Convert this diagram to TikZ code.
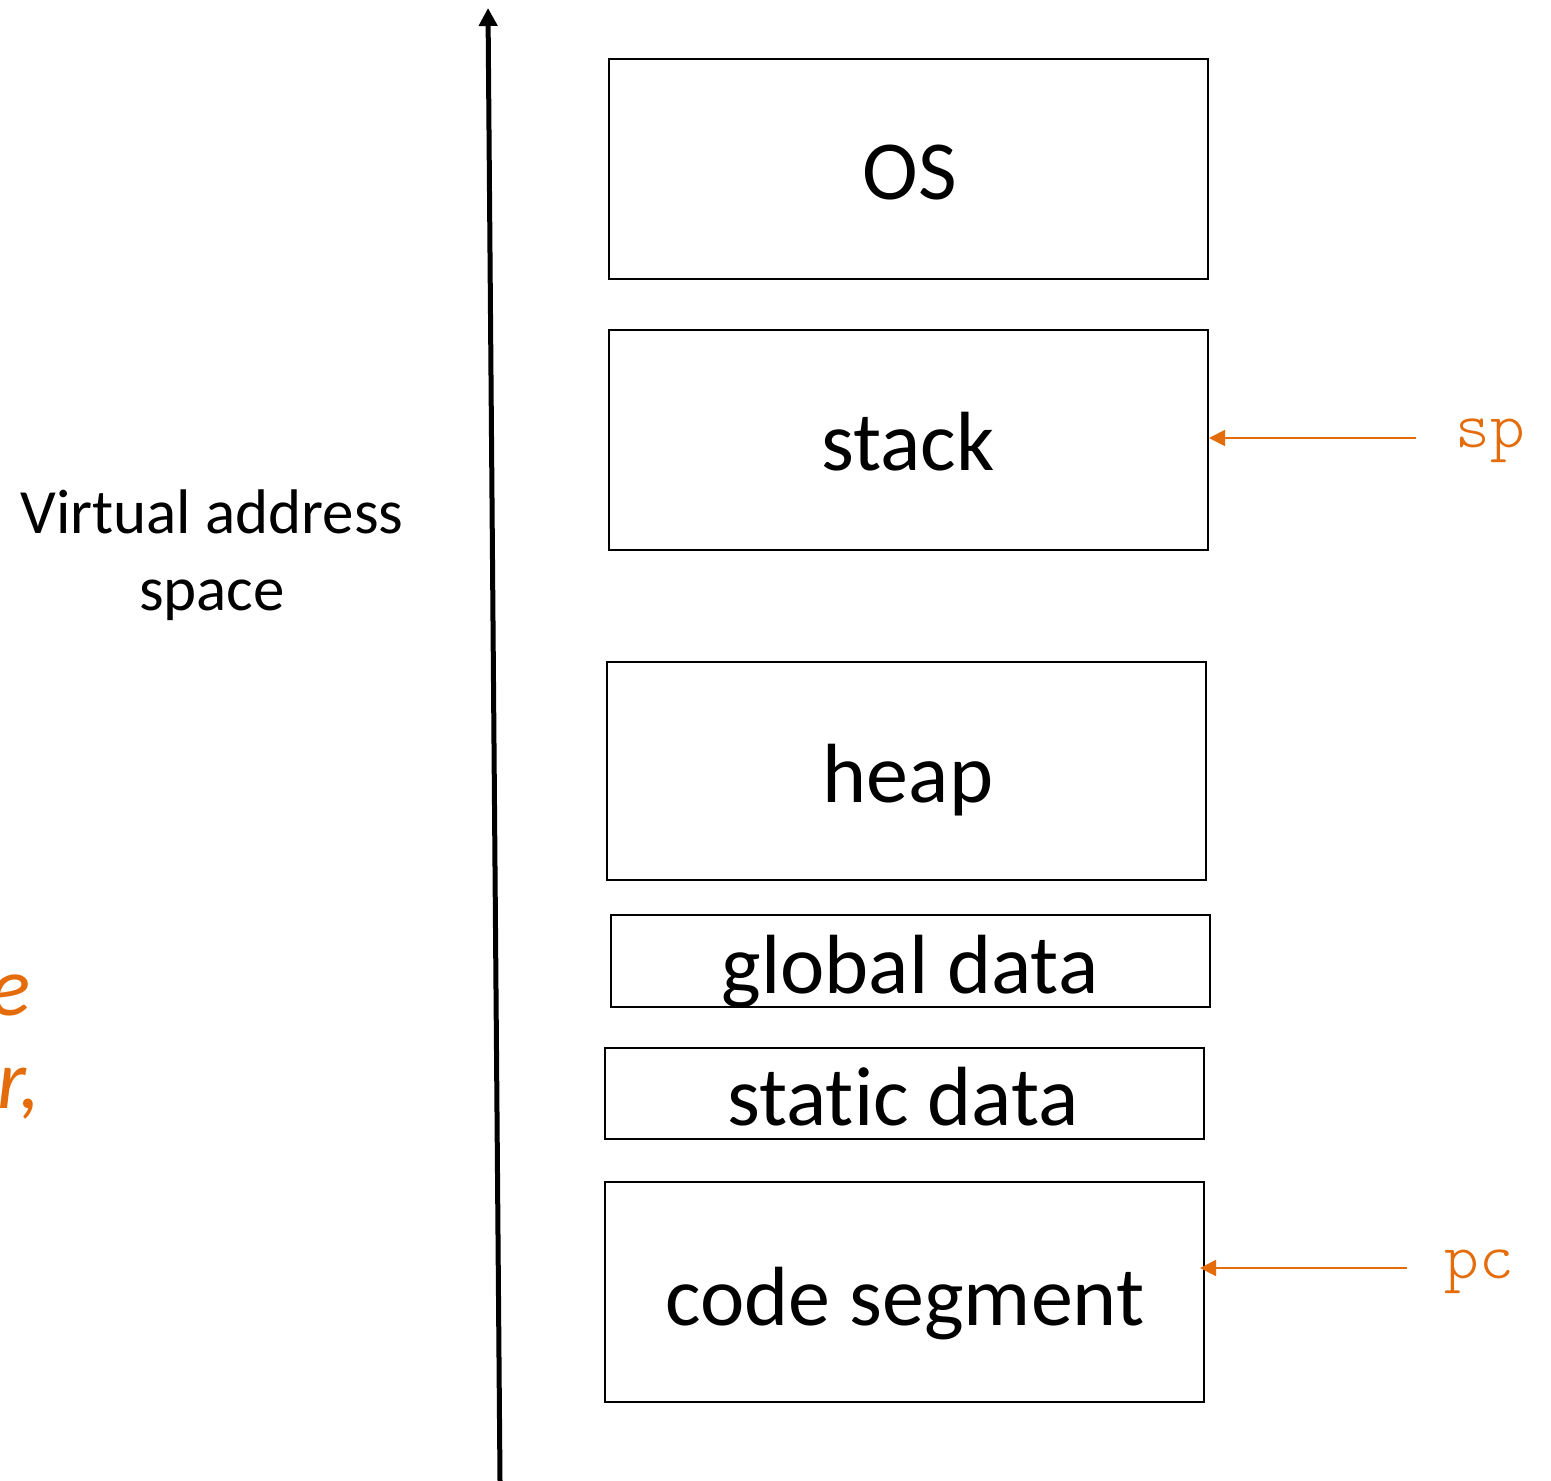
\documentclass[tikz,border=0pt]{standalone}
\usepackage{fontspec}
\setmainfont[Ligatures=NoCommon]{Carlito}
\newfontfamily\codefont{Latin Modern Mono Light}
\usetikzlibrary{arrows.meta}
\definecolor{accent}{HTML}{E46C0A}
\begin{document}
\begin{tikzpicture}[x=0.5pt,y=-0.5pt,
  segbox/.style={draw=black,line width=1pt},
  seglabel/.style={anchor=base,inner sep=0pt,font=\fontsize{42}{50}\selectfont},
  ptrlabel/.style={anchor=base west,inner sep=0pt,text=accent,font=\codefont\fontsize{33}{38}\selectfont},
  ptrarrow/.style={draw=accent,line width=1pt,-{Triangle[length=8pt,width=8pt]}}]
\useasboundingbox (0,0) rectangle (1551,1481);

% address axis
\coordinate (axbot) at (500,1481);
\coordinate (axtop) at (488,8);
\draw[line width=2.5pt,-{Triangle[length=9pt,width=9pt]}] (axbot) -- (axtop);

% memory segments
\draw[segbox] (609,59) rectangle (1208,279);
\node[seglabel] (os) at (910,200) {OS};
\draw[segbox] (609,330) rectangle (1208,550);
\node[seglabel] (stack) at (908,470) {stack};
\draw[segbox] (607,662) rectangle (1206,880);
\node[seglabel] (heap) at (908,802) {heap};
\draw[segbox] (611,915) rectangle (1210,1007);
\node[seglabel] (global) at (910,993) {global data};
\draw[segbox] (605,1048) rectangle (1204,1139);
\node[seglabel] (static) at (903,1125) {stat\kern0pt ic data};
\draw[segbox] (605,1182) rectangle (1204,1402);
\node[seglabel] (code) at (905,1325) {code segment};

% axis caption
\node[anchor=base,inner sep=0pt,font=\fontsize{31.5}{38}\selectfont] (vas1) at (212,533) {Virtual address};
\node[anchor=base,inner sep=0pt,font=\fontsize{31.5}{38}\selectfont] (vas2) at (212,610) {space};

% register pointers
\coordinate (spstart) at (1416,438);
\coordinate (spend) at (1209,438);
\draw[ptrarrow] (spstart) -- (spend);
\node[ptrlabel] (sp) at (1455,447) {sp};
\coordinate (pcstart) at (1407,1268);
\coordinate (pcend) at (1200,1268);
\draw[ptrarrow] (pcstart) -- (pcend);
\node[ptrlabel] (pc) at (1444,1278) {pc};

% note text running off the left edge
\begin{scope}
\clip (0,0) rectangle (1551,1481);
\node[anchor=base east,inner sep=0pt,text=accent,font=\itshape\fontsize{42}{50}\selectfont] (notee) at (31,1015) {e};
\node[anchor=base east,inner sep=0pt,text=accent,font=\itshape\fontsize{42}{50}\selectfont] (noter) at (41,1108) {r,};
\end{scope}
\end{tikzpicture}
\end{document}
